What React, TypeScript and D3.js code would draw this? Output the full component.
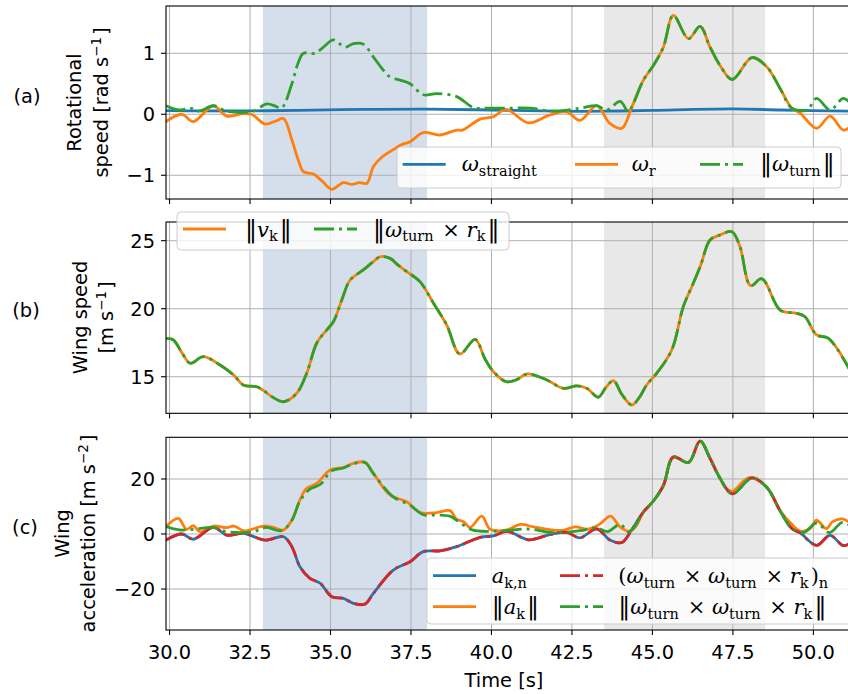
import React from 'react';
import * as d3 from 'd3';

type P = [number, number];

const W = 848;
const H = 694;

// x axis
const xTicks = [30, 32.5, 35, 37.5, 40, 42.5, 45, 47.5, 50];
const xDomain: P = [29.89, 51.2];
const shadeBlue: P = [32.9, 38.0];
const shadeGray: P = [43.5, 48.5];

// panel (a): rotational speed
const aTicks = [-1, 0, 1];
const omegaStraight: P[] = [
  [29.89, 0.06], [31, 0.055], [32.5, 0.055], [34, 0.065], [36, 0.08], [38, 0.085], [40, 0.07],
  [42, 0.05], [43.5, 0.05], [45, 0.065], [47.5, 0.088], [49, 0.07], [51.2, 0.05],
];
const omegaR: P[] = [
  [29.89, -0.12], [30.38, 0.0], [30.74, -0.12], [31.36, 0.14], [31.78, -0.03], [32.29, 0.01],
  [32.55, 0.0], [32.97, -0.16], [33.3, -0.11], [33.54, -0.07], [33.8, -0.42], [34.0, -0.75],
  [34.16, -0.94], [34.47, -0.98], [34.75, -1.1], [35.04, -1.23], [35.4, -1.12], [35.66, -1.15],
  [35.9, -1.12], [36.13, -1.13], [36.33, -0.86], [36.6, -0.7], [36.95, -0.58], [37.2, -0.5],
  [37.47, -0.45], [37.88, -0.3], [38.4, -0.34], [38.92, -0.26], [39.1, -0.26], [39.65, -0.08],
  [40.06, -0.04], [40.45, 0.08], [41.15, -0.14], [41.82, -0.01], [42.34, 0.04], [42.75, -0.1],
  [43.27, 0.14], [43.68, -0.15], [44.05, -0.23], [44.36, 0.12], [44.72, 0.56], [45.03, 0.8],
  [45.34, 1.1], [45.65, 1.62], [46.12, 1.24], [46.48, 1.44], [46.79, 1.1], [47.1, 0.8],
  [47.48, 0.57], [48.09, 0.93], [48.55, 0.78], [48.97, 0.42], [49.33, 0.1], [49.59, 0.02],
  [50.1, -0.23], [50.52, -0.03], [50.93, -0.26], [51.2, -0.18],
];
const omegaTurnNorm: P[] = [
  [29.89, 0.14], [30.3, 0.07], [30.64, 0.1], [30.9, 0.05], [31.36, 0.14], [31.78, 0.05],
  [32.6, 0.05], [33.02, 0.17], [33.3, 0.13], [33.48, 0.1], [33.8, 0.5], [34.0, 0.85],
  [34.16, 1.0], [34.52, 1.0], [34.78, 1.1], [35.09, 1.22], [35.45, 1.1], [35.71, 1.16],
  [36.02, 1.15], [36.33, 0.94], [36.6, 0.75], [36.85, 0.61], [37.16, 0.56], [37.47, 0.5],
  [37.88, 0.32], [38.3, 0.34], [38.92, 0.29], [39.44, 0.11], [39.85, 0.1], [40.48, 0.1],
  [41.2, 0.1], [41.92, 0.05], [42.75, 0.1], [43.27, 0.14], [43.58, 0.07], [44.0, 0.21],
  [44.25, 0.04], [44.36, 0.12], [44.72, 0.56], [45.03, 0.8], [45.34, 1.1], [45.65, 1.62],
  [46.12, 1.24], [46.48, 1.44], [46.79, 1.1], [47.1, 0.8], [47.48, 0.57], [48.09, 0.93],
  [48.55, 0.78], [48.97, 0.42], [49.33, 0.1], [49.8, 0.07], [50.1, 0.26], [50.52, 0.07],
  [50.93, 0.26], [51.2, 0.15],
];

// panel (b): wing speed
const bTicks = [15, 20, 25];
const wingSpeed: P[] = [
  [29.89, 17.82], [30.12, 17.7], [30.4, 16.7], [30.64, 15.99], [31.05, 16.47], [31.57, 15.86],
  [32.0, 15.1], [32.29, 14.39], [32.71, 14.26], [32.91, 14.0], [33.2, 13.5], [33.54, 13.16],
  [33.95, 13.78], [34.26, 15.25], [34.57, 17.46], [34.88, 18.43], [35.09, 19.04], [35.35, 20.64],
  [35.61, 22.11], [36.02, 22.85], [36.3, 23.4], [36.54, 23.82], [36.85, 23.7], [37.1, 23.2],
  [37.37, 22.72], [37.78, 21.99], [38.2, 20.4], [38.61, 18.8], [39.02, 16.67], [39.49, 17.75],
  [39.8, 16.3], [40.06, 15.37], [40.47, 14.63], [40.8, 14.8], [41.1, 15.2], [41.72, 14.76],
  [42.23, 14.15], [42.65, 14.32], [42.96, 14.15], [43.32, 13.49], [43.55, 14.2], [43.79, 14.71],
  [44.05, 13.7], [44.36, 12.92], [44.6, 13.5], [44.82, 14.39], [45.13, 15.25], [45.6, 16.96],
  [45.96, 20.15], [46.27, 21.87], [46.5, 23.2], [46.79, 25.05], [47.1, 25.42], [47.47, 25.66],
  [47.72, 24.56], [48.05, 21.7], [48.4, 22.2], [48.97, 19.9], [49.48, 19.66], [49.74, 19.41],
  [50.1, 18.07], [50.47, 17.82], [51.2, 15.2],
];
const turnSpeed: P[] = wingSpeed.map((d) => [d[0], d[1]] as P);

// panel (c): wing acceleration
const cTicks = [-20, 0, 20];
const accNormal: P[] = [
  [29.89, -2.2], [30.38, 0], [30.74, -1.9], [31.36, 2.4], [31.78, -0.4], [32.29, 0.24],
  [32.97, -2.2], [33.54, -1.0], [33.8, -4.6], [34.05, -11.9], [34.36, -16.1], [34.68, -17.9],
  [35.04, -22.8], [35.4, -23.4], [35.71, -25.2], [36.07, -25.5], [36.33, -21.6], [36.95, -13.1],
  [37.47, -10.1], [37.88, -6.4], [38.4, -6.1], [38.92, -4.6], [39.65, -1.2], [40.06, -0.7],
  [40.48, 1.0], [41.15, -2.1], [41.82, -0.2], [42.34, 0.6], [42.75, -1.4], [43.27, 1.9],
  [43.68, -2.2], [44.05, -3.1], [44.36, 1.6], [44.72, 8.0], [45.03, 12.0], [45.34, 17.6],
  [45.65, 28], [46.12, 26], [46.48, 33.8], [46.79, 27.5], [47.1, 20.3], [47.48, 14.6],
  [48.09, 20.4], [48.55, 17], [48.97, 8.4], [49.33, 2], [49.59, 0.4], [50.1, -4.1],
  [50.52, -0.5], [50.93, -4.2], [51.2, -3],
];
const accNorm: P[] = [
  [29.89, 2.7], [30.27, 5.7], [30.53, 1.7], [30.74, 3.0], [30.95, 0.8], [31.36, 2.9],
  [31.78, 2.3], [32.0, 2.9], [32.29, 1.2], [32.5, 1.5], [32.91, 2.9], [33.23, 2.4],
  [33.54, 1.5], [33.8, 5.1], [34.05, 12.4], [34.26, 16.6], [34.57, 18.4], [34.99, 23.3],
  [35.4, 24.2], [35.71, 25.7], [36.07, 26.1], [36.33, 22.1], [36.85, 14.2], [37.37, 11.7],
  [37.78, 7.8], [38.3, 7.8], [38.71, 8.5], [38.92, 5.3], [39.13, 4.5], [39.34, 2.4],
  [39.7, 6.5], [39.96, 1.7], [40.48, 1.5], [40.9, 3.5], [41.3, 2.6], [41.7, 1.8],
  [42.2, 1.3], [42.6, 2.6], [43.0, 1.8], [43.35, 3.5], [43.7, 6.5], [44.0, 2.5],
  [44.3, 1.0], [44.5, 3.0], [44.72, 8.0], [45.03, 12.0], [45.34, 17.6], [45.65, 28],
  [46.12, 26], [46.48, 33.8], [46.79, 27.5], [47.1, 20.3], [47.3, 16.5], [47.48, 15.5],
  [48.0, 20.5], [48.55, 17], [48.97, 8.4], [49.33, 3.5], [49.6, 1.0], [49.9, 2.0],
  [50.1, 5.0], [50.4, 2.0], [50.6, 4.5], [50.9, 5.5], [51.2, 3.5],
];
const centripetalNormal: P[] = accNormal.map((d) => [d[0], d[1]] as P);
const centripetalNorm: P[] = [
  [29.89, 2.7], [30.3, 1.5], [30.74, 1.7], [31.36, 2.4], [31.78, 0.8], [32.6, 0.8],
  [33.0, 2.4], [33.48, 1.2], [33.8, 5.0], [34.05, 12.0], [34.36, 16.3], [34.68, 18.0],
  [35.04, 23.0], [35.4, 24.0], [35.71, 25.5], [36.07, 26.0], [36.33, 22.0], [36.95, 13.5],
  [37.47, 10.5], [37.88, 7.0], [38.3, 6.9], [38.7, 6.5], [38.92, 5.0], [39.4, 1.5],
  [40.0, 1.0], [40.48, 1.3], [41.2, 1.8], [41.9, 0.5], [42.75, 1.2], [43.27, 2.2],
  [43.6, 0.9], [44.0, 3.5], [44.25, 0.8], [44.4, 2.0], [44.72, 8.0], [45.03, 12.0],
  [45.34, 17.6], [45.65, 28], [46.12, 26], [46.48, 33.8], [46.79, 27.5], [47.1, 20.3],
  [47.48, 14.6], [48.09, 20.4], [48.55, 17], [48.97, 8.4], [49.33, 2], [49.7, 0.5],
  [50.1, 4.0], [50.5, 0.5], [50.9, 4.2], [51.2, 2.5],
];

const C0 = '#1f77b4';
const C1 = '#ff7f0e';
const C2 = '#2ca02c';
const C3 = '#d62728';
const DASHDOT = '20,5,3,5';
const LW = 2.8;

const SANS = 'DejaVu Sans, sans-serif';
const SERIF = 'DejaVu Serif, serif';
const FS = 19.4;

const X0 = 166;
const X1 = 852;
const x = d3.scaleLinear().domain(xDomain).range([X0, X1]);

type Series = { data: P[]; color: string; dash?: string };

function Panel(props: {
  id: string;
  top: number;
  bottom: number;
  yDomain: P;
  yTicks: number[];
  series: Series[];
  showXLabels: boolean;
}) {
  const { id, top, bottom, yDomain, yTicks, series, showXLabels } = props;
  const y = d3.scaleLinear().domain(yDomain).range([bottom, top]);
  const line = d3
    .line<P>()
    .x((d) => x(d[0]))
    .y((d) => y(d[1]))
    .curve(d3.curveCatmullRom.alpha(0.5));
  const fmtY = (v: number) => (v < 0 ? '\u2212' + Math.abs(v) : String(v));
  return (
    <g>
      <defs>
        <clipPath id={'clip-' + id}>
          <rect x={X0} y={top} width={X1 - X0} height={bottom - top} />
        </clipPath>
      </defs>
      <rect x={x(shadeBlue[0])} y={top} width={x(shadeBlue[1]) - x(shadeBlue[0])} height={bottom - top} fill="#d5dfeb" />
      <rect x={x(shadeGray[0])} y={top} width={x(shadeGray[1]) - x(shadeGray[0])} height={bottom - top} fill="#e8e8e8" />
      {xTicks.map((t) => (
        <line key={'gx' + t} x1={x(t)} x2={x(t)} y1={top} y2={bottom} stroke="#b0b0b0" strokeWidth={1} />
      ))}
      {yTicks.map((t) => (
        <line key={'gy' + t} x1={X0} x2={X1} y1={y(t)} y2={y(t)} stroke="#b0b0b0" strokeWidth={1} />
      ))}
      <g clipPath={`url(#clip-${id})`}>
        {series.map((s, i) => (
          <path
            key={i}
            d={line(s.data) || ''}
            fill="none"
            stroke={s.color}
            strokeWidth={LW}
            strokeDasharray={s.dash}
            strokeLinejoin="round"
            strokeLinecap={s.dash ? 'butt' : 'round'}
          />
        ))}
      </g>
      <rect x={X0} y={top} width={X1 - X0} height={bottom - top} fill="none" stroke="#000" strokeWidth={1.1} />
      {xTicks.map((t) => (
        <line key={'tx' + t} x1={x(t)} x2={x(t)} y1={bottom} y2={bottom + 5} stroke="#000" strokeWidth={1.1} />
      ))}
      {yTicks.map((t) => (
        <g key={'ty' + t}>
          <line x1={X0 - 5} x2={X0} y1={y(t)} y2={y(t)} stroke="#000" strokeWidth={1.1} />
          <text x={X0 - 11} y={y(t)} dy="0.36em" textAnchor="end" fontFamily={SANS} fontSize={FS} fill="#000">
            {fmtY(t)}
          </text>
        </g>
      ))}
      {showXLabels &&
        xTicks.map((t) => (
          <text key={'lx' + t} x={x(t)} y={bottom + 29} textAnchor="middle" fontFamily={SANS} fontSize={FS} fill="#000">
            {t.toFixed(1)}
          </text>
        ))}
    </g>
  );
}

const SUB = 14.5;
const Sub = (p: { children: React.ReactNode }) => (
  <>
    <tspan fontSize={SUB} dy={4.5} fontStyle="normal">
      {p.children}
    </tspan>
    <tspan dy={-4.5}>{'\u200a'}</tspan>
  </>
);
const It = (p: { children: React.ReactNode }) => <tspan fontStyle="italic">{p.children}</tspan>;
const Bar = () => <tspan fontSize={24}>{'\u2016'}</tspan>;

function LegendLine(p: { x: number; y: number; color: string; dash?: string }) {
  return (
    <line
      x1={p.x}
      x2={p.x + 43}
      y1={p.y}
      y2={p.y}
      stroke={p.color}
      strokeWidth={LW}
      strokeDasharray={p.dash}
    />
  );
}

function LegendBox(p: { x: number; y: number; w: number; h: number }) {
  return (
    <rect x={p.x} y={p.y} width={p.w} height={p.h} rx={4} fill="#fff" fillOpacity={0.8} stroke="#cccccc" strokeWidth={1} />
  );
}

function YLabel(p: { x: number; y: number; children: React.ReactNode }) {
  return (
    <text
      transform={`translate(${p.x},${p.y}) rotate(-90)`}
      textAnchor="middle"
      dy="0.36em"
      fontFamily={SANS}
      fontSize={FS}
      fill="#000"
    >
      {p.children}
    </text>
  );
}

const Sup = (p: { children: React.ReactNode }) => (
  <>
    <tspan fontSize={13.5} dy={-7}>
      {p.children}
    </tspan>
    <tspan dy={7}>{'\u200a'}</tspan>
  </>
);

export default function App() {
  const A = { top: 6, bottom: 199 };
  const B = { top: 222, bottom: 413.3 };
  const Cc = { top: 437.3, bottom: 630 };
  return (
    <svg
      width={W}
      height={H}
      viewBox={`0 0 ${W} ${H}`}
      style={{ position: 'absolute', left: 0, top: 0, background: '#fff' }}
    >
      <rect x={0} y={0} width={W} height={H} fill="#fff" />
      <Panel
        id="a"
        top={A.top}
        bottom={A.bottom}
        yDomain={[-1.389, 1.775]}
        yTicks={aTicks}
        showXLabels={false}
        series={[
          { data: omegaStraight, color: C0 },
          { data: omegaR, color: C1 },
          { data: omegaTurnNorm, color: C2, dash: DASHDOT },
        ]}
      />
      <Panel
        id="b"
        top={B.top}
        bottom={B.bottom}
        yDomain={[12.31, 26.375]}
        yTicks={bTicks}
        showXLabels={false}
        series={[
          { data: wingSpeed, color: C1 },
          { data: turnSpeed, color: C2, dash: DASHDOT },
        ]}
      />
      <Panel
        id="c"
        top={Cc.top}
        bottom={Cc.bottom}
        yDomain={[-34.9, 35.16]}
        yTicks={cTicks}
        showXLabels={true}
        series={[
          { data: accNormal, color: C0 },
          { data: accNorm, color: C1 },
          { data: centripetalNormal, color: C3, dash: DASHDOT },
          { data: centripetalNorm, color: C2, dash: DASHDOT },
        ]}
      />

      {/* x label */}
      <text x={504} y={687} textAnchor="middle" fontFamily={SANS} fontSize={FS} fill="#000">
        Time [s]
      </text>

      {/* panel letters */}
      <text x={27} y={96} dy="0.36em" textAnchor="middle" fontFamily={SANS} fontSize={FS}>(a)</text>
      <text x={26} y={310} dy="0.36em" textAnchor="middle" fontFamily={SANS} fontSize={FS}>(b)</text>
      <text x={25} y={527} dy="0.36em" textAnchor="middle" fontFamily={SANS} fontSize={FS}>(c)</text>

      {/* y labels */}
      <YLabel x={74} y={102.5}>Rotational</YLabel>
      <YLabel x={101} y={102.5}>
        speed [rad s<Sup>{'\u22121'}</Sup>]
      </YLabel>
      <YLabel x={80} y={317.5}>Wing speed</YLabel>
      <YLabel x={106} y={317.5}>
        [m s<Sup>{'\u22121'}</Sup>]
      </YLabel>
      <YLabel x={62} y={533.5}>Wing</YLabel>
      <YLabel x={88} y={533.5}>
        acceleration [m s<Sup>{'\u22122'}</Sup>]
      </YLabel>

      {/* legend (a) */}
      <LegendBox x={397} y={147} w={444} h={41} />
      <LegendLine x={402.7} y={164.3} color={C0} />
      <text x={461.7} y={171} fontFamily={SERIF} fontSize={21} fill="#000">
        <It>ω</It>
        <Sub>straight</Sub>
      </text>
      <LegendLine x={575} y={164.3} color={C1} />
      <text x={631.7} y={171} fontFamily={SERIF} fontSize={21} fill="#000">
        <It>ω</It>
        <Sub>r</Sub>
      </text>
      <LegendLine x={700} y={164.3} color={C2} dash={DASHDOT} />
      <text x={760} y={171} fontFamily={SERIF} fontSize={21} fill="#000">
        <Bar />
        <It>ω</It>
        <Sub>turn</Sub>
        <Bar />
      </text>

      {/* legend (b) */}
      <LegendBox x={177} y={212} w={332} h={38} />
      <LegendLine x={183} y={229} color={C1} />
      <text x={245} y={236.5} fontFamily={SERIF} fontSize={21} fill="#000">
        <Bar />
        <It>v</It>
        <Sub>k</Sub>
        <Bar />
      </text>
      <LegendLine x={314} y={229} color={C2} dash={DASHDOT} />
      <text x={373} y={236.5} fontFamily={SERIF} fontSize={21} fill="#000">
        <Bar />
        <It>ω</It>
        <Sub>turn</Sub>
        <tspan> × </tspan>
        <It>r</It>
        <Sub>k</Sub>
        <Bar />
      </text>

      {/* legend (c) */}
      <LegendBox x={427} y={558} w={430} h={66} />
      <LegendLine x={433} y={575.7} color={C0} />
      <text x={491.7} y={583} fontFamily={SERIF} fontSize={21} fill="#000">
        <It>a</It>
        <Sub>k,n</Sub>
      </text>
      <LegendLine x={433} y={606.7} color={C1} />
      <text x={491.7} y={614} fontFamily={SERIF} fontSize={21} fill="#000">
        <Bar />
        <It>a</It>
        <Sub>k</Sub>
        <Bar />
      </text>
      <LegendLine x={560} y={575.7} color={C3} dash={DASHDOT} />
      <text x={618.3} y={583} fontFamily={SERIF} fontSize={21} fill="#000">
        <tspan>(</tspan>
        <It>ω</It>
        <Sub>turn</Sub>
        <tspan> × </tspan>
        <It>ω</It>
        <Sub>turn</Sub>
        <tspan> × </tspan>
        <It>r</It>
        <Sub>k</Sub>
        <tspan>)</tspan>
        <Sub>n</Sub>
      </text>
      <LegendLine x={560} y={606.7} color={C2} dash={DASHDOT} />
      <text x={618.3} y={614} fontFamily={SERIF} fontSize={21} fill="#000">
        <Bar />
        <It>ω</It>
        <Sub>turn</Sub>
        <tspan> × </tspan>
        <It>ω</It>
        <Sub>turn</Sub>
        <tspan> × </tspan>
        <It>r</It>
        <Sub>k</Sub>
        <Bar />
      </text>
    </svg>
  );
}
